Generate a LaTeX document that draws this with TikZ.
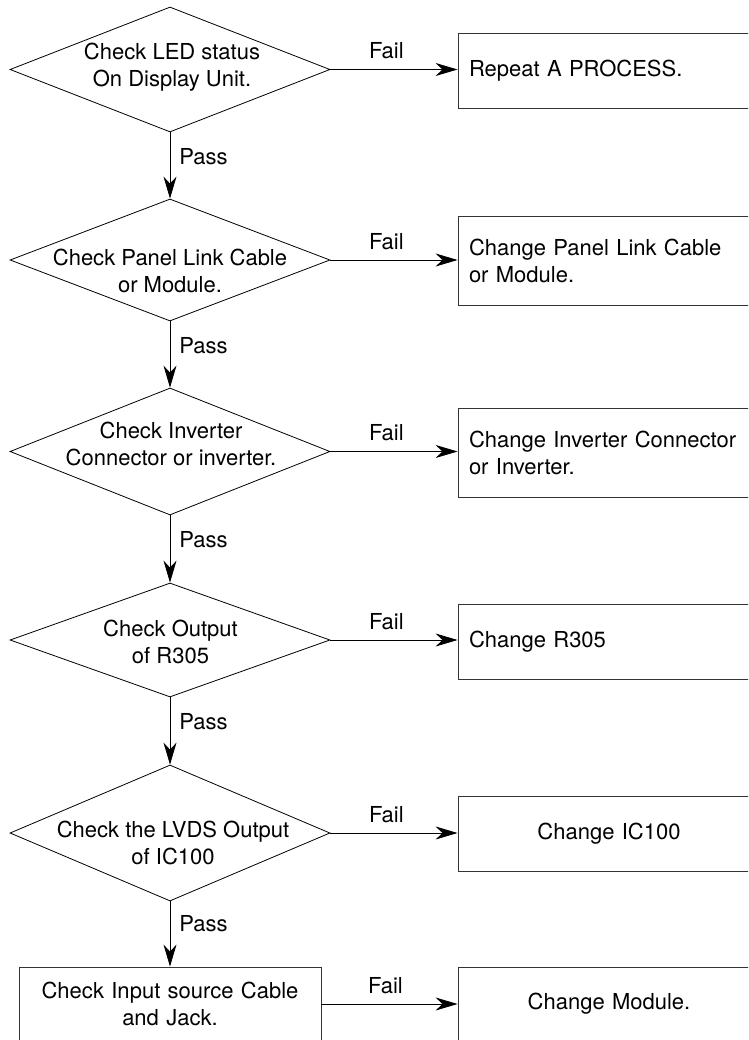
\documentclass[tikz,border=0pt]{standalone}
\usepackage{fontspec}
\setmainfont{TeX Gyre Heros}
\usetikzlibrary{shapes.geometric,arrows.meta}
\begin{document}
\begin{tikzpicture}[x=1pt,y=-1pt,
  every node/.style={font=\fontsize{22}{27}\selectfont},
  dia/.style={diamond, draw=black, line width=0.8pt, inner sep=0pt, minimum width=320pt, minimum height=#1},
  dtext/.style={align=center, inner sep=0pt},
  lbox/.style={rectangle, draw=black!80, line width=0.9pt, minimum width=302pt, minimum height=#1, text width=280pt, inner xsep=11pt, inner ysep=0pt, align=left},
  cbox/.style={rectangle, draw=black!80, line width=0.9pt, minimum width=302pt, minimum height=#1, text width=280pt, inner xsep=11pt, inner ysep=0pt, align=center},
  arr/.style={line width=0.8pt, -{Stealth[length=22pt,width=13pt,inset=7pt]}},
  lab/.style={inner sep=0pt}
]
\useasboundingbox (0,0) rectangle (748,1040);
\clip (0,0) rectangle (748,1040);

% decision diamonds
\node[dia=125pt] (d1) at (170,69.5) {};
\node[dia=122pt] (d2) at (170,260) {};
\node[dia=127pt] (d3) at (170,451.5) {};
\node[dia=114pt] (d4) at (170,640) {};
\node[dia=136pt] (d5) at (170,833) {};

\node[dtext] (t1) at (172,67.5) {Check LED status\\On Display Unit.};
\node[dtext] (t2) at (170,271) {Check Panel Link Cable\\or Module.};
\node[dtext] (t3) at (171,443.5) {Check Inverter\\Connector or inverter.};
\node[dtext] (t4) at (170.5,641.5) {Check Output\\of R305};
\node[dtext] (t5) at (173,842.5) {Check the LVDS Output\\of IC100};

% last check box
\node[cbox=74pt] (c6) at (170,1004) {Check Input source Cable\\and Jack.};

% action boxes
\node[lbox=75pt] (b1) at (609,70.5) {Repeat A PROCESS.};
\node[lbox=89pt] (b2) at (609,260.5) {Change Panel Link Cable\\or Module.};
\node[lbox=89pt] (b3) at (609,452.5) {Change Inverter Connector\\or Inverter.};
\node[lbox=75pt] (b4) at (609,641.5) {Change R305};
\node[cbox=75pt] (b5) at (609,833.5) {Change IC100};
\node[cbox=74pt] (b6) at (609,1004) {Change Module.};

% fail arrows
\draw[arr] (d1.east) -- node[lab, pos=0.44, above=10pt] {Fail} (d1.east -| b1.west);
\draw[arr] (d2.east) -- node[lab, pos=0.44, above=10pt] {Fail} (d2.east -| b2.west);
\draw[arr] (d3.east) -- node[lab, pos=0.44, above=10pt] {Fail} (d3.east -| b3.west);
\draw[arr] (d4.east) -- node[lab, pos=0.44, above=10pt] {Fail} (d4.east -| b4.west);
\draw[arr] (d5.east) -- node[lab, pos=0.44, above=10pt] {Fail} (d5.east -| b5.west);
\draw[arr] (c6.east) -- node[lab, pos=0.47, above=10pt] {Fail} (c6.east -| b6.west);

% pass arrows
\draw[arr] (d1.south) -- node[lab, pos=0.36, right=9pt] {Pass} (d2.north);
\draw[arr] (d2.south) -- node[lab, pos=0.36, right=9pt] {Pass} (d3.north);
\draw[arr] (d3.south) -- node[lab, pos=0.36, right=9pt] {Pass} (d4.north);
\draw[arr] (d4.south) -- node[lab, pos=0.36, right=9pt] {Pass} (d5.north);
\draw[arr] (d5.south) -- node[lab, pos=0.34, right=9pt] {Pass} (c6.north);
\end{tikzpicture}
\end{document}
